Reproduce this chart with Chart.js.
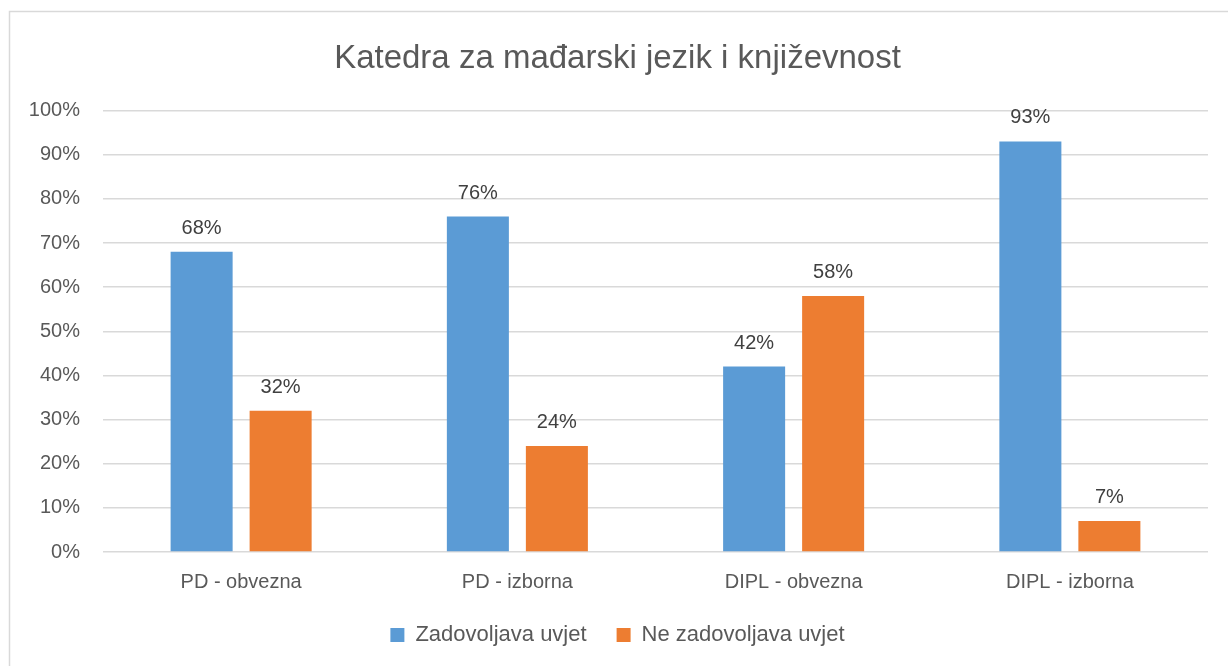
<!DOCTYPE html>
<html>
<head>
<meta charset="utf-8">
<script src="https://cdn.jsdelivr.net/npm/chart.js@4"></script>
<style>
  html, body { margin: 0; padding: 0; background: #fff; }
  #wrap { width: 1228px; height: 666px; }
</style>
</head>
<body>
<div id="wrap"><canvas id="chart" width="1228" height="666"></canvas></div>
<script>
const categories = ["PD - obvezna", "PD - izborna", "DIPL - obvezna", "DIPL - izborna"];
const zadovoljava = [68, 76, 42, 93];
const neZadovoljava = [32, 24, 58, 7];
const yTicks = [0, 10, 20, 30, 40, 50, 60, 70, 80, 90, 100];

const FONT = "'Liberation Sans', 'DejaVu Sans', sans-serif";

// frame around the whole chart, runs off the right and bottom edge
const framePlugin = {
  id: 'frame',
  beforeDraw(chart) {
    const ctx = chart.ctx;
    ctx.save();
    ctx.strokeStyle = '#d9d9d9';
    ctx.lineWidth = 1.5;
    ctx.strokeRect(9.5, 11.5, 1240, 700);
    ctx.restore();
  }
};

// value labels above each bar
const valueLabels = {
  id: 'valueLabels',
  afterDatasetsDraw(chart) {
    const ctx = chart.ctx;
    ctx.save();
    ctx.font = '20px ' + FONT;
    ctx.fillStyle = '#404040';
    ctx.textAlign = 'center';
    ctx.textBaseline = 'alphabetic';
    chart.data.datasets.forEach((ds, i) => {
      chart.getDatasetMeta(i).data.forEach((bar, j) => {
        ctx.fillText(ds.data[j] + '%', bar.x, bar.y - 18);
      });
    });
    ctx.restore();
  }
};

new Chart(document.getElementById("chart"), {
  type: 'bar',
  data: {
    labels: categories,
    datasets: [
      {
        label: "Zadovoljava uvjet",
        backgroundColor: "#5b9bd5",
        data: zadovoljava
      }, {
        label: "Ne zadovoljava uvjet",
        backgroundColor: "#ed7d31",
        data: neZadovoljava
      }
    ]
  },
  options: {
    responsive: false,
    animation: false,
    categoryPercentage: 0.572,
    barPercentage: 0.785,
    layout: {
      padding: { left: 27, right: 20, top: 39, bottom: 10 }
    },
    scales: {
      x: {
        grid: { display: false, drawTicks: false },
        border: { display: false },
        afterFit(axis) {
          axis.height = 42;
        },
        ticks: {
          color: '#595959',
          font: { family: FONT, size: 20 },
          padding: 18
        }
      },
      y: {
        min: 0,
        max: 100,
        afterBuildTicks(axis) {
          axis.ticks = yTicks.map(v => ({ value: v }));
        },
        afterFit(axis) {
          axis.width = 76;
        },
        grid: { color: '#d9d9d9', lineWidth: 1.5, drawTicks: false },
        border: { display: false },
        ticks: {
          color: '#595959',
          font: { family: FONT, size: 20 },
          padding: 23,
          callback: v => v + '%'
        }
      }
    },
    plugins: {
      tooltip: { enabled: false },
      title: {
        display: true,
        text: 'Katedra za mađarski jezik i književnost',
        color: '#595959',
        font: { family: FONT, size: 33, weight: 'normal' },
        padding: { top: 0, bottom: 32 }
      },
      legend: {
        position: 'bottom',
        labels: {
          color: '#595959',
          boxWidth: 14,
          boxHeight: 14,
          padding: 30,
          font: { family: FONT, size: 22 }
        }
      }
    }
  },
  plugins: [framePlugin, valueLabels]
});
</script>
</body>
</html>
